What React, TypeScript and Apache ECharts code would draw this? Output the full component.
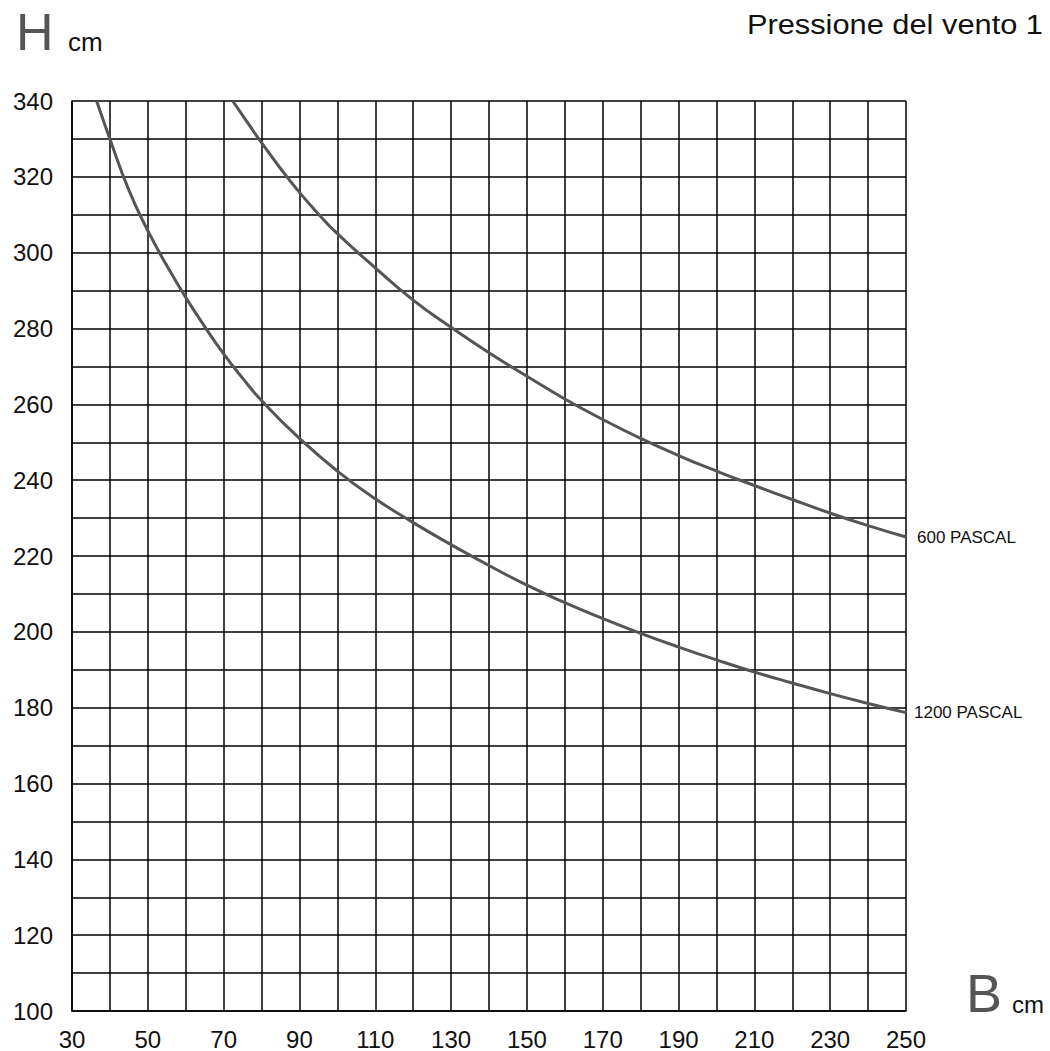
import React, { useEffect, useRef } from "react";
import * as echarts from "echarts";

const pascal1200B = [36.5, 40, 45, 50, 55, 60, 65, 70, 75, 80, 90, 100, 110, 120, 130, 140, 150, 160, 170, 180, 190, 200, 210, 220, 230, 240, 250];
const pascal1200H = [340, 330, 316.5, 305.8, 296.6, 288.2, 280.5, 273.3, 266.9, 261, 251, 242.4, 235.1, 228.8, 223, 217.5, 212.3, 207.7, 203.5, 199.6, 196, 192.6, 189.4, 186.5, 183.7, 181.1, 178.7];

const pascal600B = [72.4, 75, 80, 85, 90, 95, 100, 110, 120, 130, 140, 150, 160, 170, 180, 190, 200, 210, 220, 230, 240, 250];
const pascal600H = [340, 336.2, 329, 322.2, 315.9, 310.2, 305, 296, 287.5, 280.3, 273.6, 267.4, 261.4, 256, 251, 246.5, 242.4, 238.6, 234.9, 231.3, 228, 225];

const seriesNames = ["600 PASCAL", "1200 PASCAL"];
const xMin = 30, xMax = 250, yMin = 100, yMax = 340;
const gridStep = 10, labelStep = 20;

const FONT = "'Liberation Sans', Arial, sans-serif";

export default function App() {
  const ref = useRef<HTMLDivElement>(null);
  useEffect(() => {
    if (!ref.current) return;
    const chart = echarts.init(ref.current, null, { renderer: "svg" });
    const zip = (b: number[], h: number[]) => b.map((v, i) => [v, h[i]]);
    const lineStyle = { color: "#555555", width: 3 };
    chart.setOption({
      animation: false,
      backgroundColor: "#ffffff",
      grid: { left: 72, top: 101, width: 834, height: 910, containLabel: false },
      xAxis: {
        type: "value",
        min: xMin,
        max: xMax,
        interval: gridStep,
        axisLine: { show: true, lineStyle: { color: "#000", width: 1.5 } },
        axisTick: { show: false },
        splitLine: { show: true, lineStyle: { color: "#000", width: 1.5 } },
        axisLabel: {
          margin: 16,
          color: "#111",
          fontSize: 24,
          fontFamily: FONT,
          formatter: (v: number) => ((v - xMin) % labelStep === 0 ? String(v) : ""),
        },
      },
      yAxis: {
        type: "value",
        min: yMin,
        max: yMax,
        interval: gridStep,
        axisLine: { show: true, lineStyle: { color: "#000", width: 1.5 } },
        axisTick: { show: false },
        splitLine: { show: true, lineStyle: { color: "#000", width: 1.5 } },
        axisLabel: {
          margin: 19,
          color: "#111",
          fontSize: 24,
          fontFamily: FONT,
          formatter: (v: number) => ((v - yMin) % labelStep === 0 ? String(v) : ""),
        },
      },
      series: [
        {
          name: seriesNames[0],
          type: "line",
          smooth: true,
          showSymbol: false,
          data: zip(pascal600B, pascal600H),
          lineStyle,
          endLabel: { show: true, formatter: "{a}", color: "#111", fontSize: 17, fontFamily: FONT, distance: 11 },
        },
        {
          name: seriesNames[1],
          type: "line",
          smooth: true,
          showSymbol: false,
          data: zip(pascal1200B, pascal1200H),
          lineStyle,
          endLabel: { show: true, formatter: "{a}", color: "#111", fontSize: 17, fontFamily: FONT, distance: 8 },
        },
      ],
      graphic: [
        { type: "text", left: 16, top: 6, style: { text: "H", fontSize: 52, fontFamily: FONT, fill: "#555" } },
        { type: "text", left: 68, top: 29, style: { text: "cm", fontSize: 26, fontFamily: FONT, fill: "#111" } },
        { type: "text", left: 966, top: 966, style: { text: "B", fontSize: 54, fontFamily: FONT, fill: "#555" } },
        { type: "text", left: 1012, top: 992, style: { text: "cm", fontSize: 24, fontFamily: FONT, fill: "#111" } },
        {
          type: "text",
          x: 1043,
          y: 24,
          scaleX: 1.1,
          style: { text: "Pressione del vento 1", fontSize: 28, fontFamily: FONT, fill: "#111", align: "right", verticalAlign: "middle" },
        },
      ],
    });
    return () => chart.dispose();
  }, []);
  return (
    <div
      ref={ref}
      style={{ position: "fixed", left: 0, top: 0, width: 1050, height: 1051, background: "#fff" }}
    />
  );
}
